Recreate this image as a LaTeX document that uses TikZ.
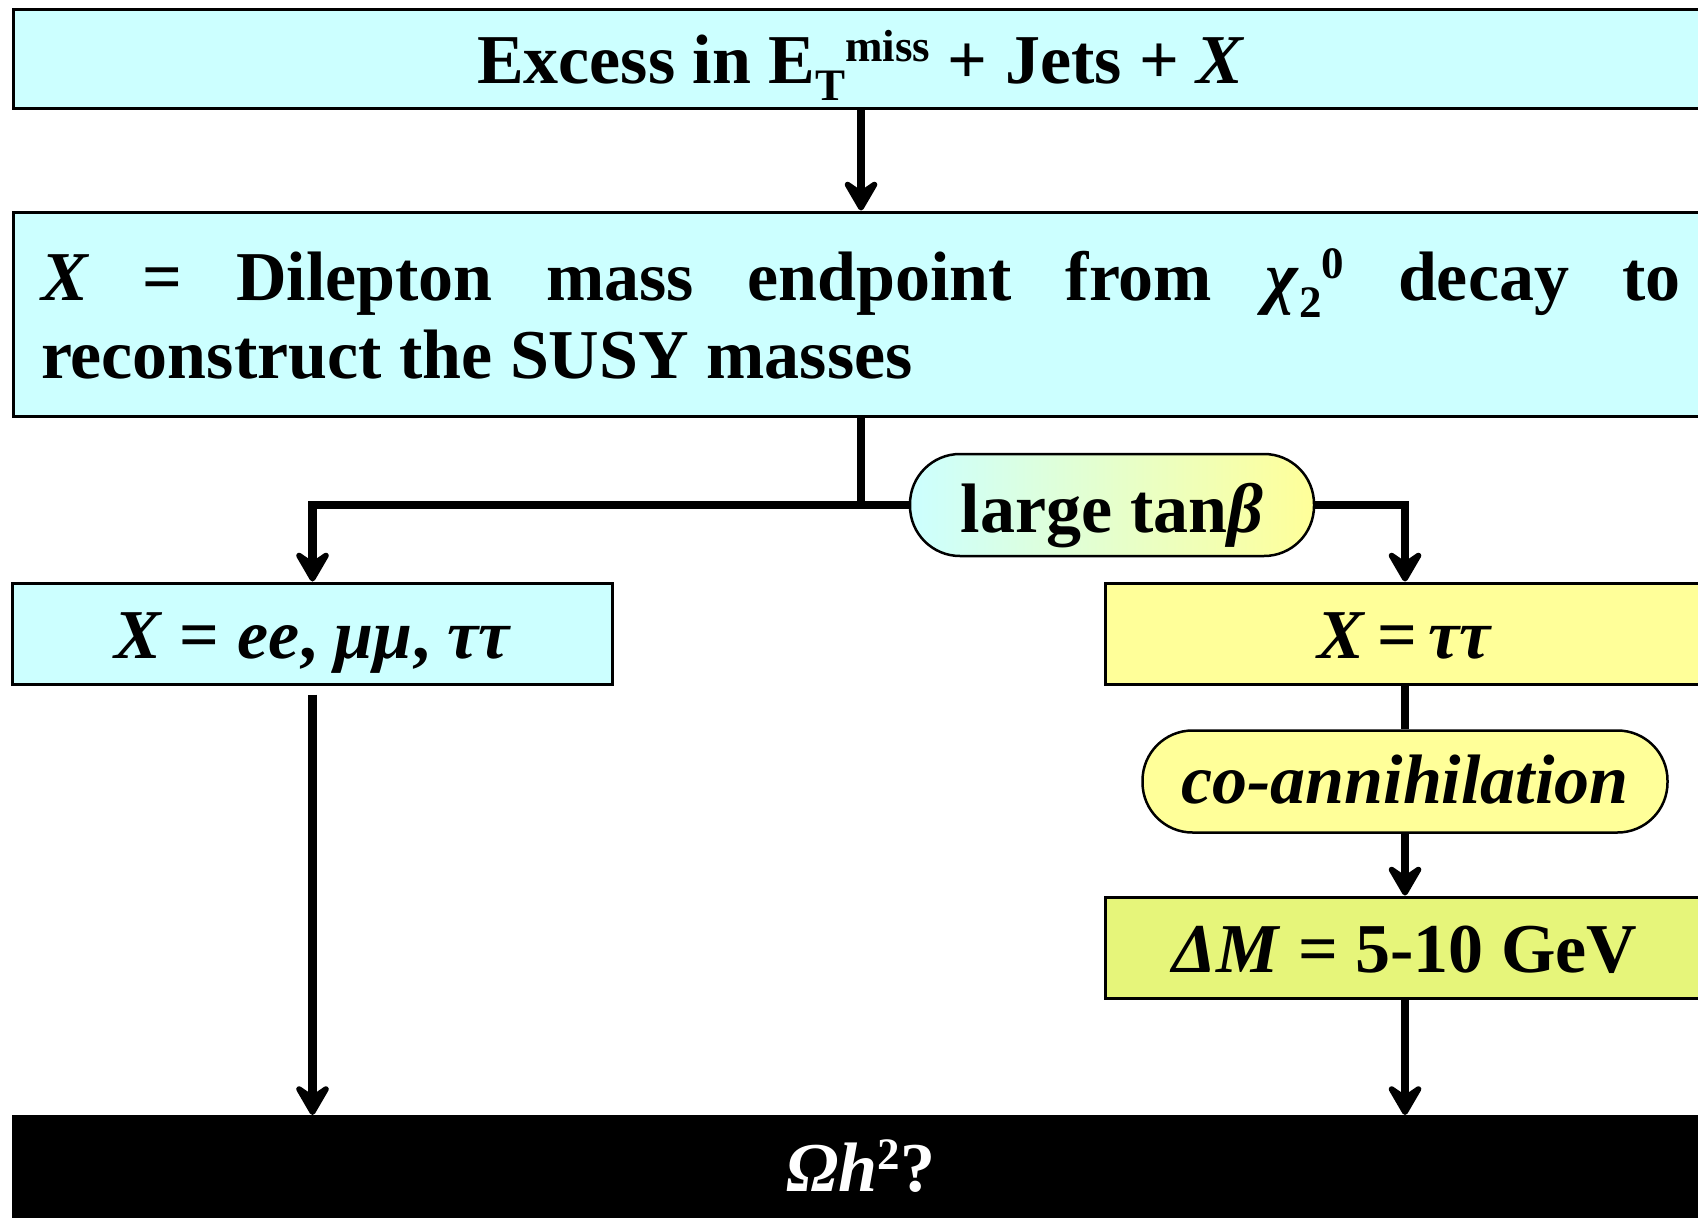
\documentclass[tikz,border=0pt]{standalone}
\usepackage{fontspec}
\setmainfont{Liberation Serif}
\usetikzlibrary{arrows.meta, positioning}

\definecolor{lcyan}{HTML}{CCFFFF}
\definecolor{lyellow}{HTML}{FFFF99}
\definecolor{lgreen}{HTML}{E6F57A}

% small raised / lowered script
\newcommand{\hisc}[1]{\raisebox{22pt}{\fontsize{45}{45}\selectfont#1}}
\newcommand{\losc}[1]{\raisebox{-17pt}{\fontsize{45}{45}\selectfont#1}}

\tikzset{
  box/.style={draw, line width=3pt, inner sep=0pt},
  onerow/.style={text height=49pt, text depth=0pt},
  bigbox/.style={box, minimum width=1696pt, minimum height=100pt},
  smallbox/.style={box, onerow, minimum width=600pt, minimum height=101pt},
  pill/.style={draw, line width=2.5pt, rounded corners=50pt, inner sep=0pt, minimum height=102pt},
  link/.style={line width=8.5pt},
  arrow/.style={link, -{Stealth[length=38pt,width=44pt,inset=15pt,round]}},
}

\begin{document}
\begin{tikzpicture}[x=1pt, y=-1pt, font=\fontsize{70}{78}\selectfont\bfseries]

\useasboundingbox (0,0) rectangle (1698,1218);
\clip (0,0) rectangle (1698,1218);

% boxes
\node[bigbox, onerow, fill=lcyan, minimum height=99pt] (top) at (861,58.5)
  {Excess in E\losc{T}\hisc{miss} + Jets + \textit{X}};
\node[bigbox, fill=lcyan, minimum height=204pt, text width=1640pt, align=justify] (box2) at (861,314)
  {\textit{X} = Dilepton mass endpoint from \textit{χ}\losc{2}\hisc{0} decay to\linebreak reconstruct the SUSY masses};
\node[pill, left color=lcyan, right color=lyellow, minimum width=404pt, text height=54pt, text depth=0pt] (tanb) at (1112,505)
  {large tan\textit{β}};
\node[smallbox, fill=lcyan] (left) at (312.5,633.5) {\textit{X} = \textit{ee}, \textit{μμ}, \textit{ττ}};
\node[smallbox, fill=lyellow] (right) at (1405,633.5) {\textit{X}\,=\,\textit{ττ}};
\node[pill, fill=lyellow, minimum width=525pt, text height=44pt, text depth=0pt] (coann) at (1405,781.5)
  {\textit{co-annihilation}};
\node[smallbox, fill=lgreen] (dm) at (1405,947.5) {\textit{ΔM} = 5-10 GeV};
\node[bigbox, onerow, fill=black, text=white, minimum height=101pt] (omega) at (861,1167)
  {\textit{Ωh}\hisc{2}?};

% connectors
\draw[arrow] (top.south) -- (box2.north);
\draw[link] (box2.south) |- (tanb.west);
\draw[arrow] (tanb.west) -| (left.north);
\draw[arrow] (tanb.east) -| (right.north);
\draw[link] (right.south) -- (coann.north);
\draw[arrow] (coann.south) -- (dm.north);
\draw[arrow] (dm.south) -- (dm.south |- omega.north);
\draw[arrow, shorten <=9pt] (left.south) -- (left.south |- omega.north);

\end{tikzpicture}
\end{document}
